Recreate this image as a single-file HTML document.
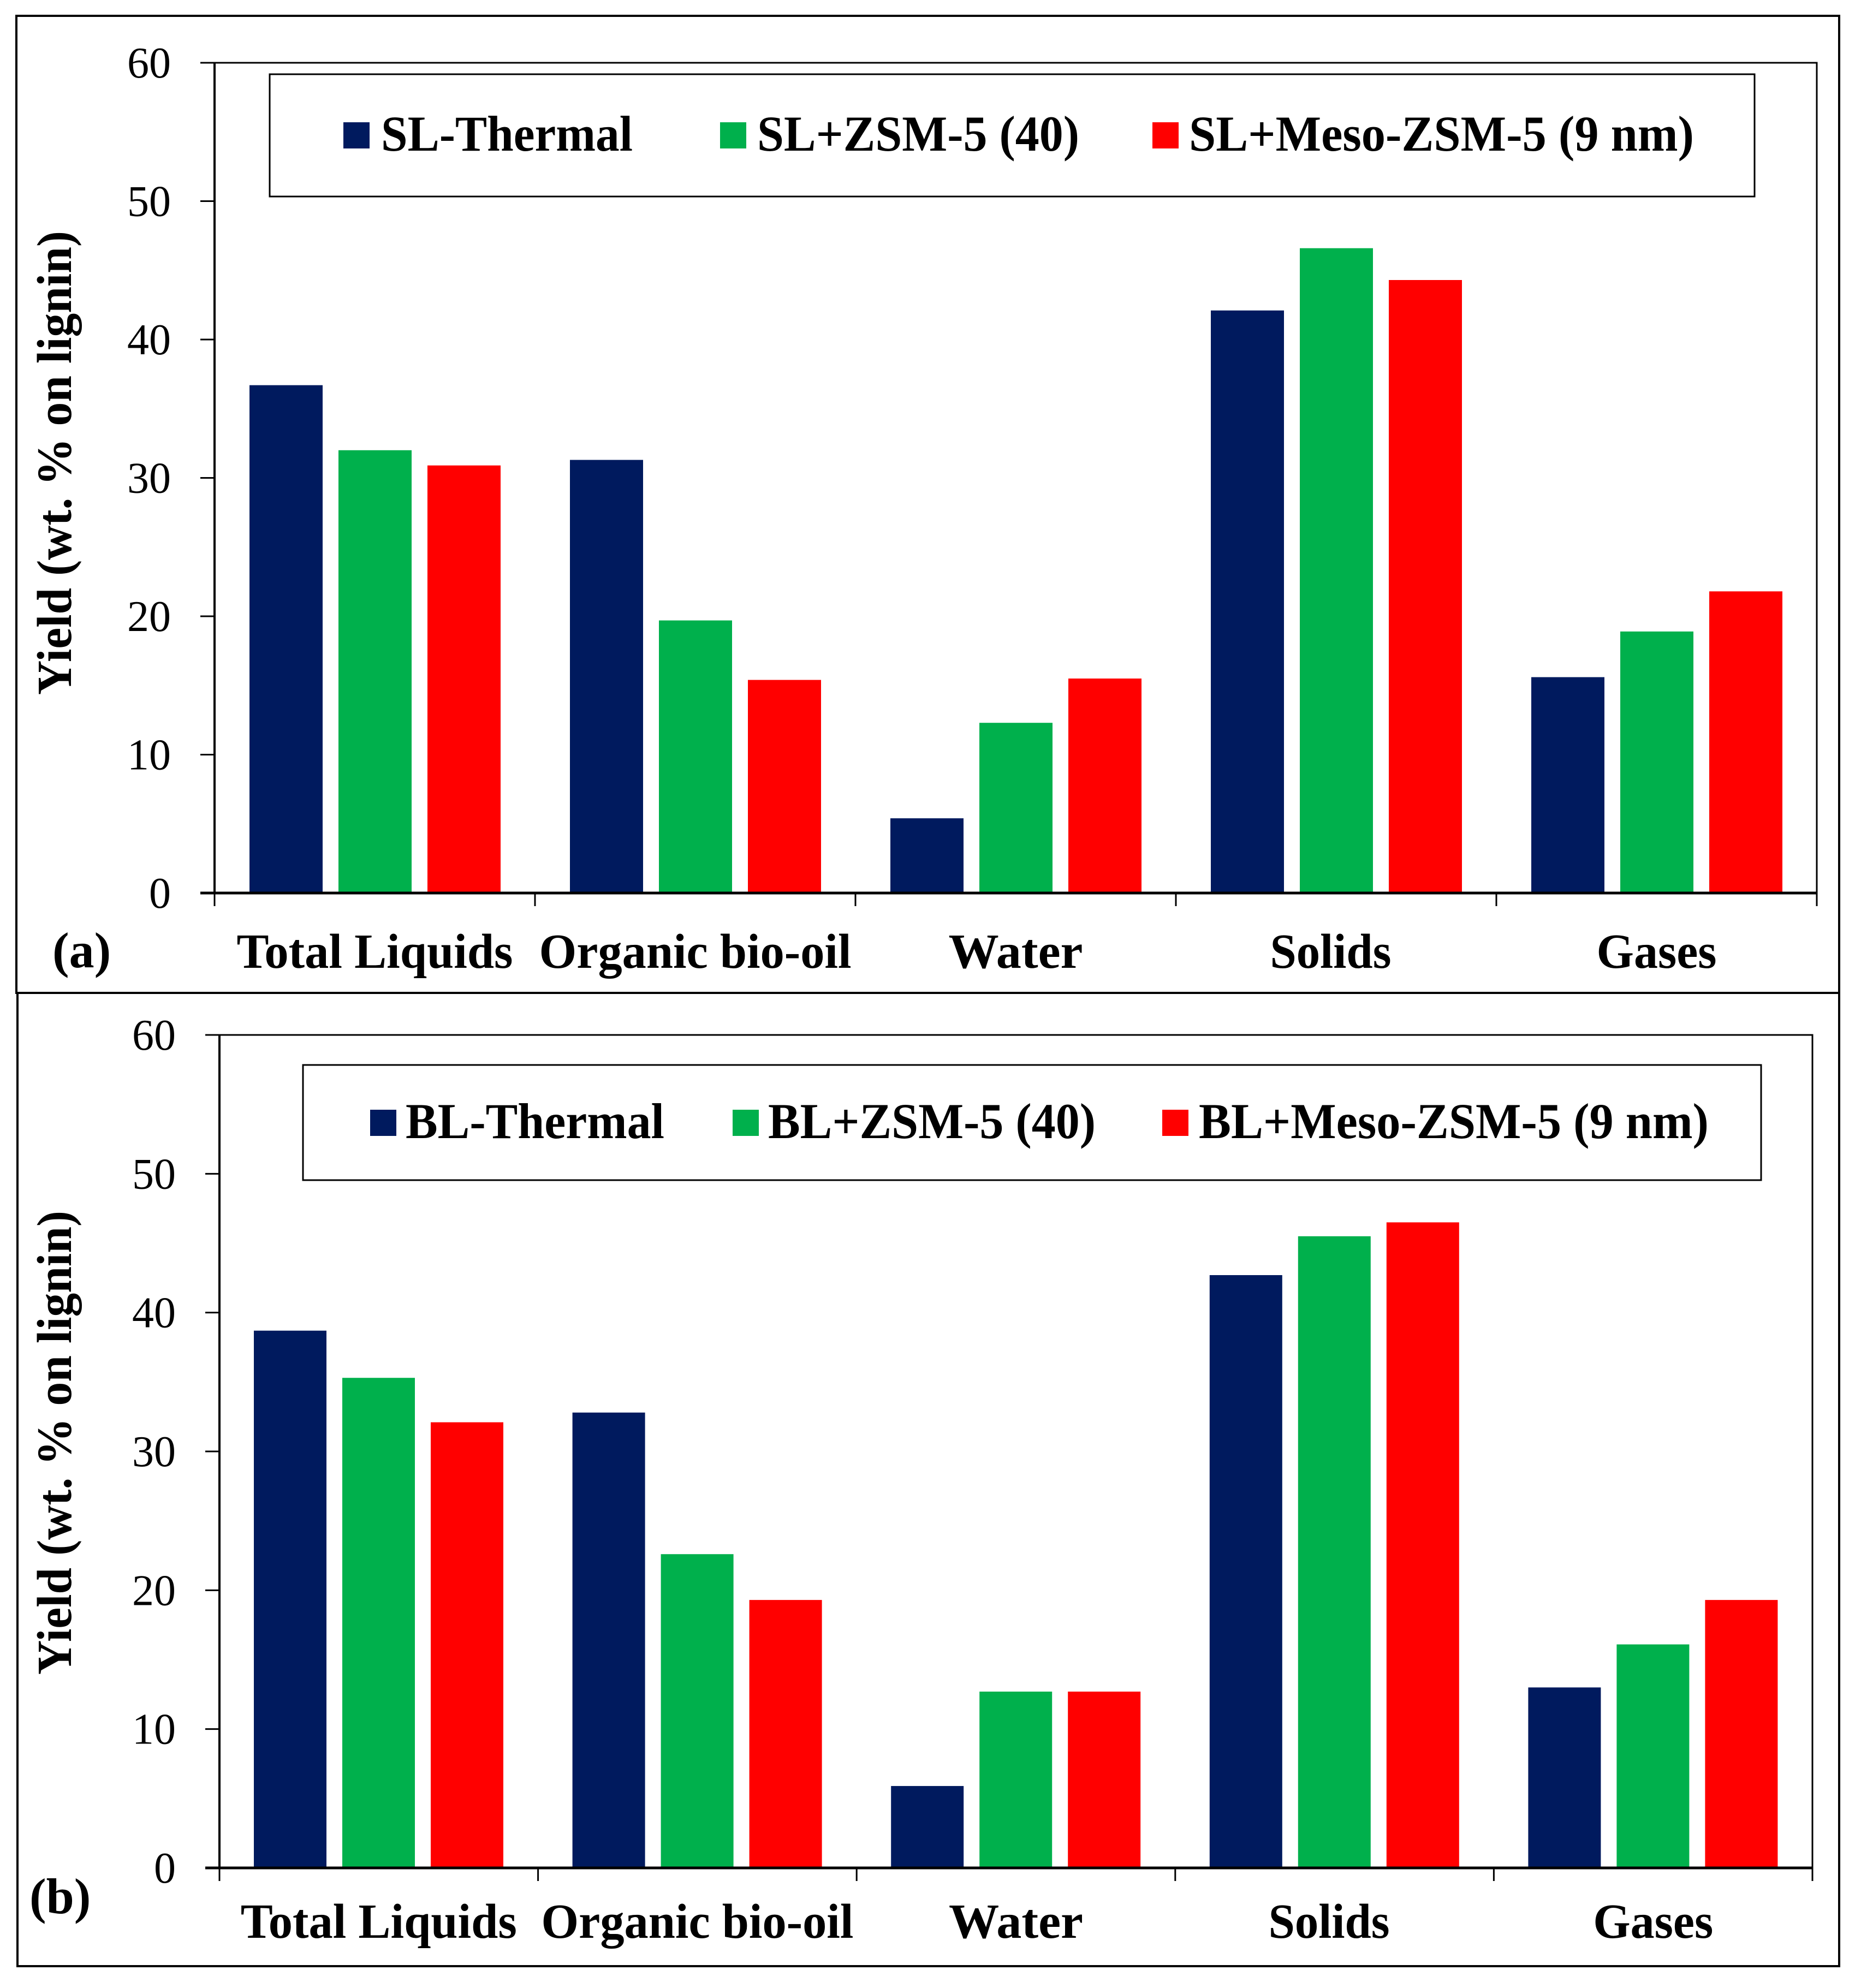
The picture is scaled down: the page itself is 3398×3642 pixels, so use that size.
<!DOCTYPE html>
<html><head><meta charset="utf-8"><style>
html,body{margin:0;padding:0;background:#fff;}
svg{display:block;}
svg text{font-family:"Liberation Serif","Times New Roman",Times,serif !important;fill:#000;}
</style></head><body>
<svg id="chart" width="3398" height="3642" viewBox="0 0 3398 3642" xmlns="http://www.w3.org/2000/svg" font-family="Liberation Serif, Times New Roman, serif">
<rect x="0" y="0" width="3398" height="3642" fill="#fff"/>
<rect x="30" y="29" width="3339" height="1790" fill="none" stroke="#000" stroke-width="4"/>
<rect x="32" y="1819" width="3337" height="1783" fill="none" stroke="#000" stroke-width="4"/>
</svg>
<script>
const categories = ["Total Liquids","Organic bio-oil","Water","Solids","Gases"];
const yTicks = [0,10,20,30,40,50,60];
const seriesNamesA = ["SL-Thermal","SL+ZSM-5 (40)","SL+Meso-ZSM-5 (9 nm)"];
const seriesNamesB = ["BL-Thermal","BL+ZSM-5 (40)","BL+Meso-ZSM-5 (9 nm)"];
const slThermal = [36.7, 31.3, 5.4, 42.1, 15.6];
const slZsm = [32.0, 19.7, 12.3, 46.6, 18.9];
const slMeso = [30.9, 15.4, 15.5, 44.3, 21.8];
const blThermal = [38.7, 32.8, 5.9, 42.7, 13.0];
const blZsm = [35.3, 22.6, 12.7, 45.5, 16.1];
const blMeso = [32.1, 19.3, 12.7, 46.5, 19.3];

const colors = ["#001A5E","#00B04C","#FF0000"];
const NS = "http://www.w3.org/2000/svg";
const FONT = "Liberation Serif, Times New Roman, serif";
const svg = document.getElementById('chart');
function mk(tag, attrs, parent){const e=document.createElementNS(NS,tag);for(const k in attrs)e.setAttribute(k,attrs[k]);if(tag==='text')e.setAttribute('font-family',FONT);(parent||svg).appendChild(e);return e;}

function drawPanel(p){
  const g = mk('g',{});
  
  
  const yScale = v => p.y0 - (v/60)*(p.y0-p.y60);
  const cw = (p.x1-p.x0)/categories.length;
  const fr = mk('rect',{x:p.x0,y:p.y60,width:p.x1-p.x0,height:p.y0-p.y60,fill:'none',stroke:'#000','stroke-width':3},g);
  
  
  p.series.forEach((vals,si)=>{
    vals.forEach((v,ci)=>{
      const x = p.x0 + ci*cw + p.off + si*p.step;
      const r = mk('rect',{x:x,y:yScale(v),width:p.bw,height:yScale(0)-yScale(v),fill:colors[si]},g);
      
      
    });
  });
  const ya = mk('line',{x1:p.x0,y1:p.y60,x2:p.x0,y2:p.y0,stroke:'#000','stroke-width':4},g);
  
  
  const xa = mk('line',{x1:p.x0-26,y1:p.y0,x2:p.x1,y2:p.y0,stroke:'#000','stroke-width':5},g);
  
  
  yTicks.forEach(t=>{
    const y=yScale(t);
    mk('line',{x1:p.x0-26,y1:y,x2:p.x0,y2:y,stroke:'#000','stroke-width':3},g);
    const tx = mk('text',{x:p.x0-80,y:y+27,'font-size':80,'text-anchor':'end'},g);
    tx.textContent = t;
    
    
  });
  for(let i=0;i<=categories.length;i++){
    const x=p.x0+i*cw;
    mk('line',{x1:x,y1:p.y0,x2:x,y2:p.y0+24,stroke:'#000','stroke-width':3},g);
  }
  const catW = [506,572,246,222,220];
  const catDx = [0,0,0,-10,0];
  categories.forEach((c,i)=>{
    const tx = mk('text',{x:p.x0+(i+0.5)*cw+catDx[i],y:p.catY,'font-size':90,'font-weight':'bold','text-anchor':'middle',textLength:catW[i],lengthAdjust:'spacingAndGlyphs'},g);
    tx.textContent = c;
    
    
  });
  const yt = mk('text',{x:0,y:0,'font-size':90,'font-weight':'bold','text-anchor':'middle',textLength:850,lengthAdjust:'spacingAndGlyphs',transform:'translate('+(p.titleX)+','+p.titleY+') rotate(-90)'},g);
  yt.textContent = 'Yield (wt. % on lignin)';
  
  
  const pl = mk('text',{x:p.labX,y:p.labY,'font-size':92,'font-weight':'bold'},g);
  pl.textContent = p.label;
  
  
  const lb = mk('rect',{x:p.leg[0],y:p.leg[1],width:p.leg[2]-p.leg[0],height:p.leg[3]-p.leg[1],fill:'#fff',stroke:'#000','stroke-width':3},g);
  
  
  p.names.forEach((n,i)=>{
    const sq = mk('rect',{x:p.sqX[i],y:p.legBase-52,width:48,height:48,fill:colors[i]},g);
    
    
    const tx = mk('text',{x:p.txX[i],y:p.legBase,'font-size':92,'font-weight':'bold',textLength:p.txW[i],lengthAdjust:'spacingAndGlyphs'},g);
    tx.textContent = n;
    
    
  });
}

drawPanel({id:'panel-a',x0:393,x1:3328,y0:1636,y60:115,off:64,bw:134,step:163,
  series:[slThermal,slZsm,slMeso],names:seriesNamesA,catY:1773,titleX:130,titleY:848,
  label:'(a)',labX:96,labY:1772,leg:[494,136,3214,360],legBase:276,
  sqX:[629,1319,2111],txX:[698,1387,2178],txW:[461,590,925]});
drawPanel({id:'panel-b',x0:402,x1:3320,y0:3422,y60:1896,off:63,bw:133,step:162,
  series:[blThermal,blZsm,blMeso],names:seriesNamesB,catY:3550,titleX:130,titleY:2643,
  label:'(b)',labX:54,labY:3505,leg:[555,1951,3226,2162],legBase:2085,
  sqX:[678,1342,2129],txX:[743,1407,2196],txW:[474,600,934]});
</script>
</body></html>
